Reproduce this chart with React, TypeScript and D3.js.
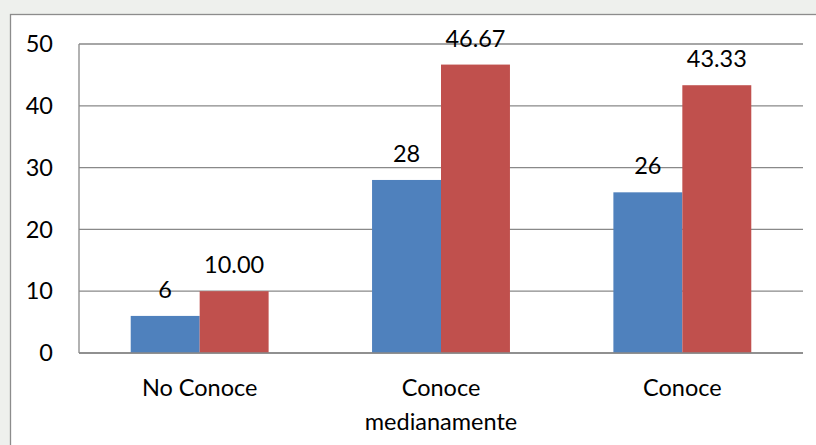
import React from "react";
import * as d3 from "d3";

const categories: string[][] = [["No Conoce"], ["Conoce", "medianamente"], ["Conoce"]];
const seriesA: number[] = [6, 28, 26];
const seriesALabels: string[] = ["6", "28", "26"];
const seriesB: number[] = [10.0, 46.67, 43.33];
const seriesBLabels: string[] = ["10.00", "46.67", "43.33"];
const yTicks: number[] = [0, 10, 20, 30, 40, 50];
const colors: string[] = ["#4F81BD", "#C0504D"];

const W = 816;
const H = 445;
const plot = { left: 79, right: 803, top: 44, bottom: 353 };
const FONT = "Lato, 'Open Sans', sans-serif";
const FS = 23.5;

export default function App() {
  const idx = categories.map((_, i) => String(i));
  const x = d3
    .scaleBand<string>()
    .domain(idx)
    .range([plot.left, plot.right])
    .paddingInner(0.4286)
    .paddingOuter(0.2143);
  const xs = d3.scaleBand<string>().domain(["a", "b"]).range([0, x.bandwidth()]).padding(0);
  const y = d3.scaleLinear().domain([0, 50]).range([plot.bottom, plot.top]);
  const series = [
    { key: "a", values: seriesA, labels: seriesALabels },
    { key: "b", values: seriesB, labels: seriesBLabels },
  ];
  const gridColor = "#898989";
  return (
    <svg
      width={W}
      height={H}
      style={{ position: "absolute", left: 0, top: 0, display: "block" }}
      fontFamily={FONT}
    >
      <rect x={0} y={0} width={W} height={H} fill="#eef0ed" />
      <rect x={10.5} y={14.5} width={W + 20} height={H + 20} fill="#ffffff" stroke="#8c8c8c" strokeWidth={1.3} />
      {yTicks.map((t) => (
        <g key={t}>
          <line x1={plot.left} x2={plot.right} y1={y(t)} y2={y(t)} stroke={gridColor} strokeWidth={1.3} />
          <text x={53} y={y(t)} dy="0.35em" textAnchor="end" fontSize={FS} fill="#000">
            {t}
          </text>
        </g>
      ))}
      {series.map((s, si) =>
        s.values.map((v, i) => {
          const bx = (x(String(i)) as number) + (xs(s.key) as number);
          return (
            <rect
              key={s.key + i}
              x={bx}
              y={y(v)}
              width={xs.bandwidth()}
              height={y(0) - y(v)}
              fill={colors[si]}
            />
          );
        })
      )}
      <line x1={plot.left} x2={plot.left} y1={plot.top} y2={plot.bottom} stroke={gridColor} strokeWidth={1.3} />
      <line x1={plot.left} x2={plot.right} y1={plot.bottom} y2={plot.bottom} stroke={gridColor} strokeWidth={1.3} />
      {series.map((s) =>
        s.values.map((v, i) => {
          const cx = (x(String(i)) as number) + (xs(s.key) as number) + xs.bandwidth() / 2;
          return (
            <text key={"l" + s.key + i} x={cx} y={y(v) - 18} textAnchor="middle" fontSize={FS} fill="#000">
              {s.labels[i]}
            </text>
          );
        })
      )}
      {categories.map((lines, i) => {
        const cx = (x(String(i)) as number) + x.bandwidth() / 2;
        return (
          <text key={"c" + i} x={cx} y={396} textAnchor="middle" fontSize={FS} fill="#000">
            {lines.map((ln, j) => (
              <tspan key={j} x={cx} dy={j === 0 ? 0 : 33.5}>
                {ln}
              </tspan>
            ))}
          </text>
        );
      })}
    </svg>
  );
}
